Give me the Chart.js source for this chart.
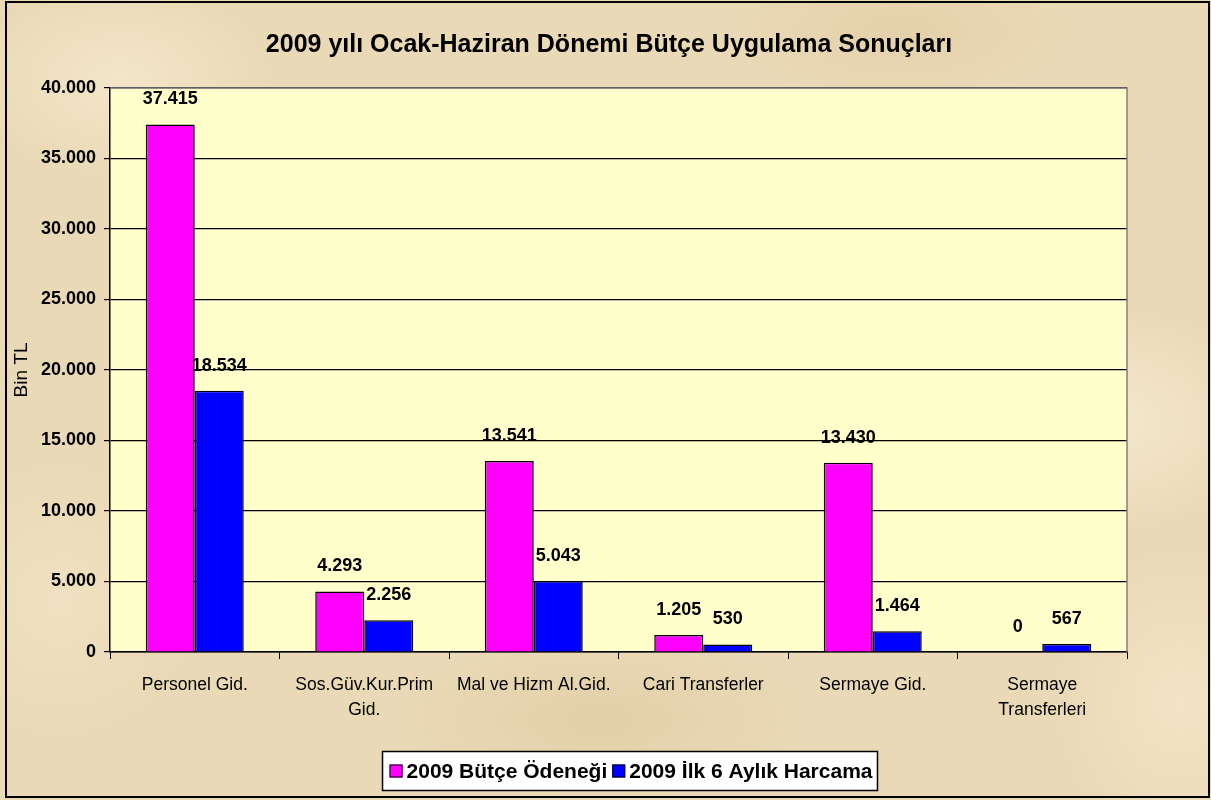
<!DOCTYPE html>
<html>
<head>
<meta charset="utf-8">
<script src="https://cdn.jsdelivr.net/npm/chart.js@4.4.1/dist/chart.umd.min.js"></script>
<style>
    html, body { margin: 0; padding: 0; }
    body {
        width: 1211px; height: 800px; overflow: hidden;
        background-color: #ead9b6;
        background-image:
            radial-gradient(ellipse 220px 140px at 120px 80px, rgba(255,245,225,0.45), rgba(255,245,225,0) 70%),
            radial-gradient(ellipse 260px 160px at 1100px 420px, rgba(255,248,228,0.5), rgba(255,248,228,0) 70%),
            radial-gradient(ellipse 300px 120px at 600px 720px, rgba(210,185,140,0.3), rgba(210,185,140,0) 70%),
            radial-gradient(ellipse 200px 200px at 60px 600px, rgba(245,232,205,0.5), rgba(245,232,205,0) 70%),
            radial-gradient(ellipse 240px 100px at 900px 30px, rgba(215,190,145,0.3), rgba(215,190,145,0) 70%),
            radial-gradient(ellipse 180px 220px at 1180px 700px, rgba(250,238,212,0.5), rgba(250,238,212,0) 70%);
    }
    #wrap { position: absolute; left: 0; top: 0; width: 1211px; height: 800px; }
</style>
</head>
<body>
<div id="wrap"><canvas id="bar-chart-butce" width="1211" height="800"></canvas></div>
<script>
let categories = [["Personel Gid."], ["Sos.Güv.Kur.Prim", "Gid."], ["Mal ve Hizm Al.Gid."], ["Cari Transferler"], ["Sermaye Gid."], ["Sermaye", "Transferleri"]];
let butceOdenegi = [37415, 4293, 13541, 1205, 13430, 0];
let ilkAltiAy = [18534, 2256, 5043, 530, 1464, 567];
let seriesNames = ["2009 Bütçe Ödeneği", "2009 İlk 6 Aylık Harcama"];
let seriesColors = ["#ff00ff", "#0000ff"];
let chartTitle = "2009 yılı Ocak-Haziran Dönemi Bütçe Uygulama Sonuçları";

const FONT = "Arial, 'Liberation Sans', sans-serif";

function formatTL(v) {
    return String(v).replace(/\B(?=(\d{3})+(?!\d))/g, '.');
}

// legend drawn by hand so it can sit off-centre like the original
function drawLegend(ctx, cx, cy) {
    ctx.font = "bold 21px " + FONT;
    let box = 13, gapAfterBox = 4, gapItems = 5, padL = 7, padR = 5;
    let widths = seriesNames.map(n => ctx.measureText(n).width);
    let total = padL + padR;
    widths.forEach((w, i) => { total += box + gapAfterBox + w + (i ? gapItems : 0); });
    let x = cx - total / 2;
    let h = 39;
    ctx.fillStyle = "#fff";
    ctx.fillRect(x, cy - h / 2, total, h);
    ctx.strokeStyle = "#000";
    ctx.lineWidth = 1.5;
    ctx.strokeRect(x, cy - h / 2, total, h);
    x += padL;
    ctx.textAlign = "left";
    ctx.textBaseline = "middle";
    seriesNames.forEach((n, i) => {
        if (i) x += gapItems;
        ctx.fillStyle = seriesColors[i];
        ctx.fillRect(x, cy - box / 2, box, box);
        ctx.lineWidth = 1;
        ctx.strokeStyle = "#000";
        ctx.strokeRect(x + 0.5, cy - box / 2 + 0.5, box - 1, box - 1);
        x += box + gapAfterBox;
        ctx.fillStyle = "#000";
        ctx.fillText(n, x, cy + 1);
        x += widths[i];
    });
}

const chartDecor = {
    id: 'chartDecor',
    beforeDraw(chart) {
        let ctx = chart.ctx;
        let a = chart.chartArea;
        ctx.save();
        ctx.fillStyle = "#ffffcc";
        ctx.fillRect(a.left, a.top, a.right - a.left, a.bottom - a.top);
        ctx.restore();
    },
    afterDraw(chart) {
        let ctx = chart.ctx;
        let a = chart.chartArea;
        ctx.save();
        // plot border top / right
        ctx.strokeStyle = "#808080";
        ctx.lineWidth = 1.5;
        ctx.beginPath();
        ctx.moveTo(a.left, a.top);
        ctx.lineTo(a.right, a.top);
        ctx.lineTo(a.right, a.bottom);
        ctx.stroke();

        // data labels
        ctx.fillStyle = "#000";
        ctx.font = "bold 18px " + FONT;
        ctx.textAlign = "center";
        ctx.textBaseline = "middle";
        chart.data.datasets.forEach((ds, di) => {
            chart.getDatasetMeta(di).data.forEach((bar, i) => {
                ctx.fillText(formatTL(ds.data[i]), bar.x, bar.y - 25);
            });
        });

        // title
        ctx.font = "bold 25px " + FONT;
        ctx.fillText(chartTitle, 609, 45);

        drawLegend(ctx, 630, 771);

        // outer border
        ctx.strokeStyle = "#000";
        ctx.lineWidth = 2;
        ctx.strokeRect(6, 2, 1203, 795);
        ctx.restore();
    }
};

Chart.defaults.font.family = FONT;
Chart.defaults.color = "#000";

new Chart(document.getElementById("bar-chart-butce"), {
    type: 'bar',
    data: {
        labels: categories,
        datasets: [{
            label: seriesNames[0],
            data: butceOdenegi,
            backgroundColor: seriesColors[0],
            borderColor: "#000",
            borderWidth: 1.5,
            borderSkipped: 'bottom'
        }, {
            label: seriesNames[1],
            data: ilkAltiAy,
            backgroundColor: seriesColors[1],
            borderColor: "#000",
            borderWidth: 1.5,
            borderSkipped: 'bottom'
        }]
    },
    options: {
        responsive: false,
        animation: false,
        layout: { padding: { left: 10, right: 84, top: 88, bottom: 48 } },
        datasets: { bar: { categoryPercentage: 0.578, barPercentage: 1 } },
        plugins: {
            title: { display: false },
            legend: { display: false },
            tooltip: { enabled: false }
        },
        scales: {
            x: {
                grid: { drawOnChartArea: false, drawTicks: true, tickLength: 7, color: "#000", offset: true },
                border: { color: "#000", width: 1.5 },
                ticks: { font: { size: 17.5, lineHeight: 1.4 }, color: "#000", padding: 14, maxRotation: 0, autoSkip: false },
                afterFit(s) { s.height = 100; }
            },
            y: {
                min: 0,
                max: 40000,
                ticks: {
                    stepSize: 5000,
                    font: { size: 18, weight: 'bold' },
                    color: "#000",
                    padding: 8,
                    callback: (v) => formatTL(v)
                },
                grid: { color: "#000", lineWidth: 1.2, tickLength: 6 },
                border: { color: "#000", width: 1.5 },
                title: {
                    display: true,
                    text: 'Bin TL',
                    font: { size: 19 },
                    color: "#000",
                    padding: { top: 0, bottom: 2 }
                },
                afterFit(s) { s.width = 100; }
            }
        }
    },
    plugins: [chartDecor]
});
</script>
</body>
</html>
